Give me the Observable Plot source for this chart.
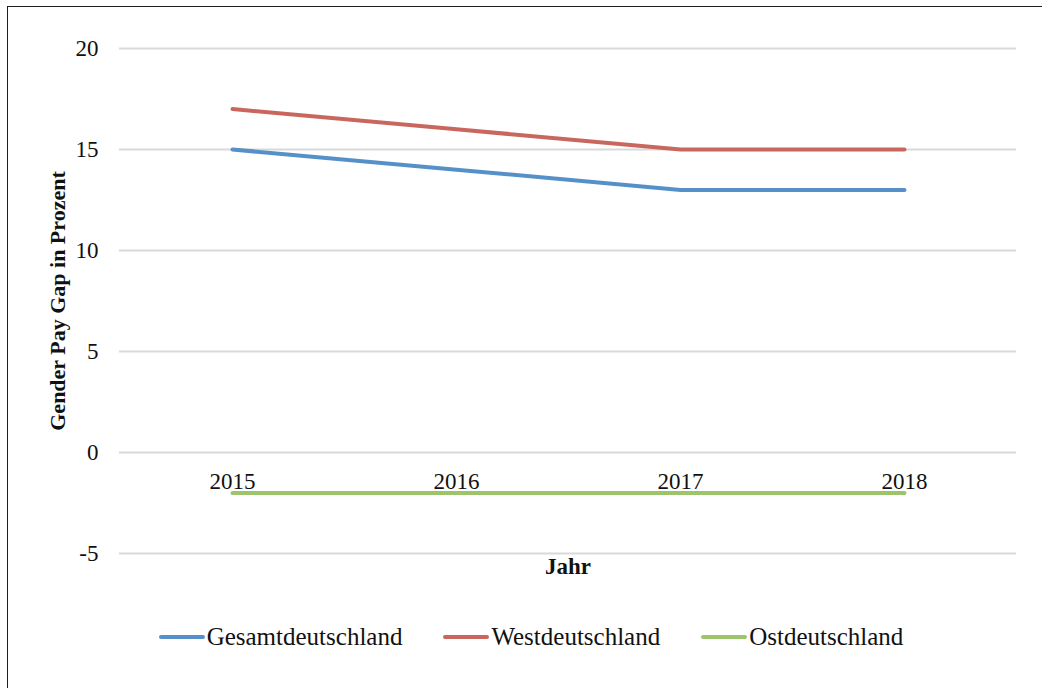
<!DOCTYPE html>
<html>
<head>
<meta charset="utf-8">
<script src="https://cdn.jsdelivr.net/npm/d3@7"></script>
<script src="https://cdn.jsdelivr.net/npm/@observablehq/plot@0.6"></script>
<style>
  html, body { margin: 0; padding: 0; background: #fff; }
  body { width: 1042px; height: 688px; position: relative; overflow: hidden; font-family: "Liberation Serif", "DejaVu Serif", serif; }
  #frame { position: absolute; left: 7px; top: 6px; width: 1100px; height: 800px; border-top: 1.3px solid #1e1e1e; border-left: 1.3px solid #1e1e1e; pointer-events: none; }
  #chart { position: absolute; left: 0; top: 0; }
  #legend { position: absolute; left: 20px; top: 600px; width: 1022px; height: 74px; display: flex; justify-content: center; align-items: center; gap: 41px; font-size: 25px; color: #111; }
  .item { display: flex; align-items: center; gap: 2px; }
  .sw { width: 46px; height: 4px; border-radius: 2px; }
</style>
</head>
<body>
<div id="chart"></div>
<div id="legend"></div>
<div id="frame"></div>
<script>
const years = ["2015", "2016", "2017", "2018"];
const seriesNames = ["Gesamtdeutschland", "Westdeutschland", "Ostdeutschland"];
const gesamt = [15, 14, 13, 13];
const west = [17, 16, 15, 15];
const ost = [-2, -2, -2, -2];
const yTicks = [-5, 0, 5, 10, 15, 20];
const yLabel = "Gender Pay Gap in Prozent";
const xLabel = "Jahr";

const colors = ["#5690c9", "#c9675f", "#9cc46c"];
const seriesValues = [gesamt, west, ost];
const data = seriesNames.flatMap((s, i) => years.map((y, j) => ({series: s, year: y, value: seriesValues[i][j]})));

const plot = Plot.plot({
  width: 1042,
  height: 600,
  marginLeft: 119,
  marginRight: 26,
  marginTop: 48,
  marginBottom: 47,
  style: {fontFamily: "'Liberation Serif', 'DejaVu Serif', serif", color: "#111", background: "transparent"},
  x: {type: "point", domain: years, padding: 0.5, axis: null},
  y: {domain: [-5, 20], axis: null},
  color: {domain: seriesNames, range: colors},
  marks: [
    Plot.gridY(yTicks, {stroke: "#d9d9d9", strokeOpacity: 1, strokeWidth: 2}),
    Plot.axisY(yTicks, {tickSize: 0, tickPadding: 21, fontSize: 23, label: null, tickFormat: d => d < 0 ? "-" + Math.abs(d) : String(d)}),
    Plot.text(years, {x: d => d, y: () => 0, dy: 29, fontSize: 23, fill: "#111"}),
    Plot.line(data, {x: "year", y: "value", z: "series", stroke: "series", strokeWidth: 4, strokeLinecap: "round", strokeLinejoin: "round"}),
    Plot.text([xLabel], {frameAnchor: "bottom", dy: 20, fontSize: 23, fontWeight: "bold", fill: "#111"}),
    Plot.text([yLabel], {frameAnchor: "left", textAnchor: "middle", dx: -62, rotate: -90, fontSize: 22, fontWeight: "bold", fill: "#111"})
  ]
});
document.getElementById("chart").appendChild(plot);

const legend = document.getElementById("legend");
seriesNames.forEach((s, i) => {
  const item = document.createElement("div");
  item.className = "item";
  const sw = document.createElement("span");
  sw.className = "sw";
  sw.style.background = colors[i];
  const t = document.createElement("span");
  t.textContent = s;
  item.appendChild(sw);
  item.appendChild(t);
  legend.appendChild(item);
});
</script>
</body>
</html>
